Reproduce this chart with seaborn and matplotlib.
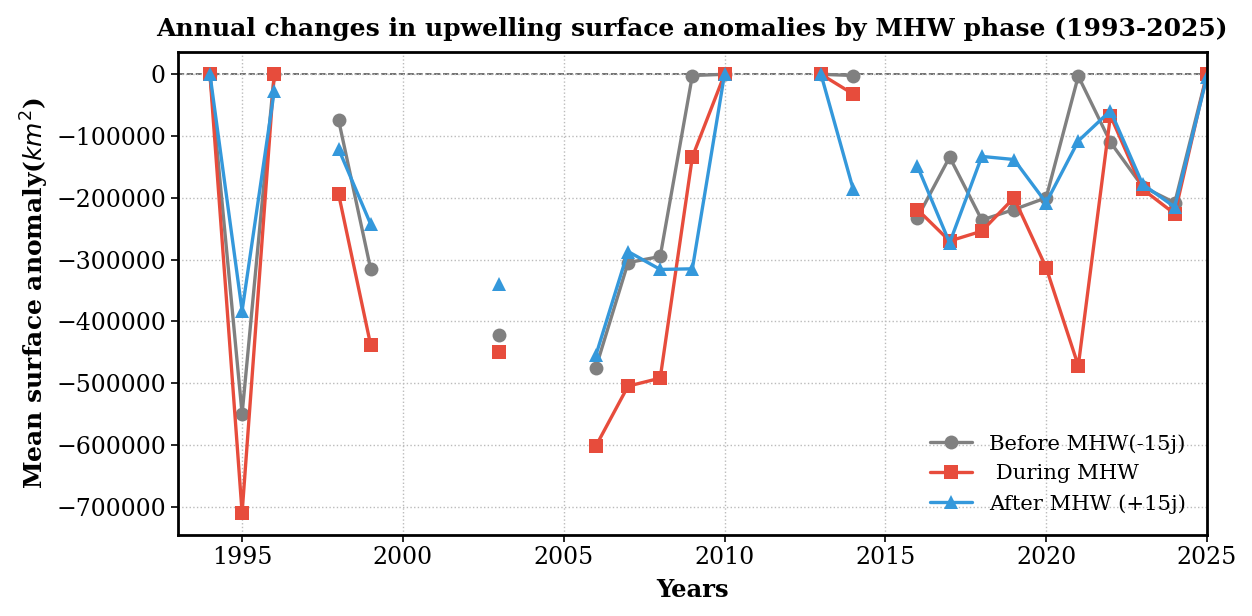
import numpy as np
import pandas as pd
import matplotlib
matplotlib.use("Agg")
import matplotlib.pyplot as plt
import seaborn as sns

years = list(range(1994, 2026))
nan = np.nan
# values in km^2, missing years = no data
before = {1994: 0, 1995: -550000, 1996: 0, 1998: -74000, 1999: -316000,
          2003: -422000, 2006: -475000, 2007: -305000, 2008: -295000,
          2009: -2000, 2010: 0, 2013: 0, 2014: -2000, 2016: -232000,
          2017: -134000, 2018: -236000, 2019: -219000, 2020: -200000,
          2021: -3000, 2022: -110000, 2023: -182000, 2024: -208000, 2025: 0}
during = {1994: 0, 1995: -710000, 1996: 0, 1998: -194000, 1999: -439000,
          2003: -449000, 2006: -602000, 2007: -505000, 2008: -492000,
          2009: -134000, 2010: 0, 2013: 0, 2014: -32000, 2016: -219000,
          2017: -270000, 2018: -254000, 2019: -200000, 2020: -313000,
          2021: -472000, 2022: -67000, 2023: -186000, 2024: -226000, 2025: 0}
after = {1994: 0, 1995: -383000, 1996: -27000, 1998: -121000, 1999: -243000,
         2003: -340000, 2006: -455000, 2007: -287000, 2008: -316000,
         2009: -315000, 2010: 0, 2013: 0, 2014: -186000, 2016: -149000,
         2017: -273000, 2018: -133000, 2019: -138000, 2020: -208000,
         2021: -108000, 2022: -59000, 2023: -178000, 2024: -215000, 2025: -4000}

labels = ["Before MHW(-15j)", " During MHW", "After MHW (+15j)"]
colors = ["#808080", "#e74c3c", "#3498db"]
markers = ["o", "s", "^"]
series = [before, during, after]
xticks = [1995, 2000, 2005, 2010, 2015, 2020, 2025]
yticks = [0, -100000, -200000, -300000, -400000, -500000, -600000, -700000]

sns.set_style("white")
plt.rcParams["font.family"] = ["DejaVu Serif"]
for k in ["text.color", "axes.labelcolor", "xtick.color", "ytick.color"]:
    plt.rcParams[k] = "black"

fig, ax = plt.subplots(figsize=(12.52, 6.16), dpi=100)

for vals, lab, col, mk in zip(series, labels, colors, markers):
    y = np.array([vals.get(yr, nan) for yr in years], dtype=float)
    df = pd.DataFrame({"year": years, "value": y})
    df["segment"] = df["value"].isna().cumsum()
    df = df.dropna()
    sns.lineplot(data=df, x="year", y="value", units="segment", estimator=None,
                 color=col, marker=mk, markersize=10, markeredgewidth=0,
                 linewidth=2.4, ax=ax, legend=False, sort=True)
    ax.plot([], [], color=col, marker=mk, markersize=10, markeredgewidth=0,
            linewidth=2.4, label=lab)

ax.axhline(0, color="#444444", linestyle="--", linewidth=1.2, alpha=0.9, zorder=0)
ax.grid(True, linestyle=":", color="#bbbbbb", linewidth=1)
ax.set_xlim(1993, 2025)
ax.set_xticks(xticks)
ax.set_yticks(yticks)
ax.tick_params(axis="both", labelsize=17, length=5, width=1.2, direction="out",
               bottom=True, left=True)
for s in ax.spines.values():
    s.set_linewidth(2)
    s.set_color("black")

ax.set_title("Annual changes in upwelling surface anomalies by MHW phase (1993-2025)",
             fontsize=18, fontweight="bold", pad=12)
ax.set_xlabel("Years", fontsize=17.5, fontweight="bold", labelpad=6)
ax.set_ylabel("Mean surface anomaly($km^2$)", fontsize=18, fontweight="bold", labelpad=4)
ax.legend(loc="lower right", frameon=False, fontsize=15.2, borderaxespad=0.6)

fig.subplots_adjust(left=0.142, right=0.964, top=0.915, bottom=0.132)
fig.savefig("out.png", dpi=100)
